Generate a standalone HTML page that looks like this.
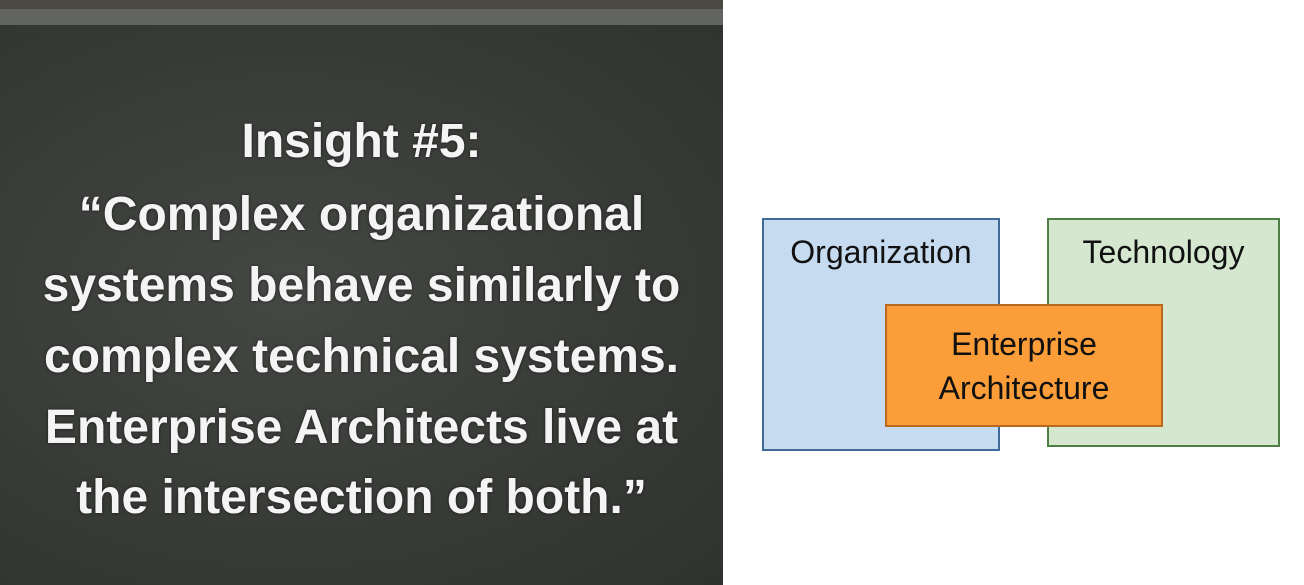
<!DOCTYPE html>
<html><head><meta charset="utf-8"><style>
html,body{margin:0;padding:0;width:1304px;height:585px;overflow:hidden;background:#fff;font-family:"Liberation Sans",sans-serif}
#board{position:absolute;left:0;top:0;width:723px;height:585px;background:radial-gradient(ellipse at 40% 50%,#444743 0%,#383a37 60%,#30322f 100%)}
#strip1{position:absolute;left:0;top:0;width:723px;height:9px;background:#4a4840}
#strip2{position:absolute;left:0;top:9px;width:723px;height:16px;background:#626462}
.line{position:absolute;left:0;width:723px;text-align:center;color:#f4f4f4;font-weight:bold;font-size:48px;line-height:56px;text-shadow:0 0 3px rgba(0,0,0,.6)}
.box{position:absolute;box-sizing:border-box;font-size:32px;color:#111;text-align:center}
</style></head><body>
<div id="board">
<div id="strip1"></div>
<div id="strip2"></div>
<div class="line" style="top:114px">Insight #5:</div>
<div class="line" style="top:187px">“Complex organizational</div>
<div class="line" style="top:258px">systems behave similarly to</div>
<div class="line" style="top:329px">complex technical systems.</div>
<div class="line" style="top:400px">Enterprise Architects live at</div>
<div class="line" style="top:470px">the intersection of both.”</div>
</div>
<div class="box" style="left:762px;top:218px;width:238px;height:233px;background:#c6daf0;border:2px solid #3f6a98"><div style="margin-top:14px">Organization</div></div>
<div class="box" style="left:1047px;top:218px;width:233px;height:229px;background:#d5e8cf;border:2px solid #4f7f45"><div style="margin-top:14px">Technology</div></div>
<div class="box" style="left:885px;top:304px;width:278px;height:123px;background:#fb9d38;border:2px solid #b8681f;line-height:44px"><div style="margin-top:16px">Enterprise<br>Architecture</div></div>
</body></html>
